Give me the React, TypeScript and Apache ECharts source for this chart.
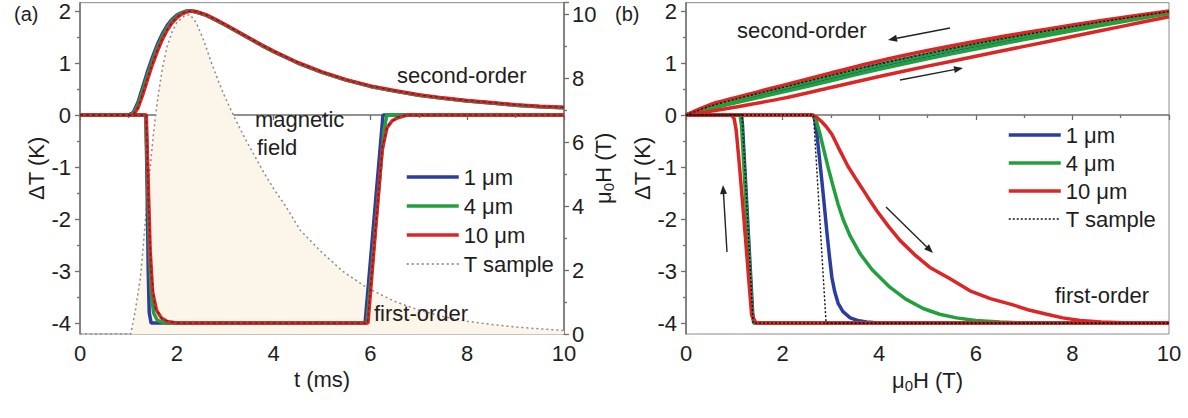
import React, { useEffect, useRef } from "react";
import * as echarts from "echarts";

const FONT = '"Liberation Sans", Arial, sans-serif';
const BLUE = "#2b3d9e";
const GREEN = "#22a03e";
const RED = "#dc2626";
const AXIS = "#6e6e6e";
const TXT = "#1e1e1e";

// ---------- panel (a): time traces ----------
const A_FIELD = [
  [0, 0], [1.05, 0], [1.15, 0.8], [1.25, 1.8], [1.32, 3.0], [1.38, 4.1], [1.45, 5.2], [1.52, 6.3],
  [1.6, 7.3], [1.7, 8.3], [1.8, 9.0], [1.9, 9.45], [2.0, 9.75], [2.15, 9.95], [2.27, 10], [2.4, 9.75],
  [2.5, 9.4], [2.6, 9.0], [2.7, 8.55], [2.85, 7.95], [3.0, 7.4], [3.2, 6.75], [3.4, 6.15], [3.6, 5.6],
  [3.8, 5.05], [4.0, 4.55], [4.25, 4.0], [4.55, 3.25], [5.0, 2.55], [5.43, 1.96], [5.93, 1.45],
  [6.5, 1.02], [7, 0.75], [7.5, 0.55], [8, 0.4], [8.5, 0.3], [9, 0.22], [9.5, 0.16], [10, 0.11],
];

const A_T2 = [0, 1.0, 1.1, 1.2, 1.3, 1.4, 1.5, 1.6, 1.7, 1.8, 1.9, 2.0, 2.1, 2.2, 2.3, 2.4, 2.6, 2.8, 3.0,
  3.25, 3.5, 3.75, 4.0, 4.5, 5, 5.5, 6, 6.5, 7, 7.5, 8, 8.5, 9, 9.5, 10];
const A_BLUE2 = [0, 0, 0.05, 0.25, 0.55, 0.85, 1.12, 1.36, 1.56, 1.72, 1.84, 1.92, 1.97, 2.0, 2.0, 1.98,
  1.92, 1.83, 1.73, 1.6, 1.47, 1.34, 1.22, 1.0, 0.82, 0.67, 0.55, 0.46, 0.38, 0.32, 0.27, 0.23, 0.19, 0.16, 0.14];
const A_GREEN2 = [0, 0, 0.03, 0.2, 0.48, 0.78, 1.05, 1.3, 1.51, 1.68, 1.81, 1.9, 1.96, 1.99, 2.0, 1.98,
  1.92, 1.83, 1.73, 1.6, 1.47, 1.34, 1.22, 1.0, 0.82, 0.67, 0.55, 0.46, 0.38, 0.32, 0.27, 0.23, 0.19, 0.16, 0.14];
const A_RED2 = [0, 0, 0, 0.14, 0.4, 0.7, 0.98, 1.23, 1.45, 1.63, 1.77, 1.87, 1.94, 1.98, 2.0, 1.99,
  1.93, 1.84, 1.74, 1.61, 1.48, 1.35, 1.23, 1.01, 0.83, 0.68, 0.56, 0.47, 0.39, 0.33, 0.28, 0.24, 0.2, 0.17, 0.15];
const A_SAMPLE2 = [0, 0, 0, 0.15, 0.42, 0.72, 1.0, 1.25, 1.46, 1.64, 1.78, 1.88, 1.95, 1.99, 2.0, 1.99,
  1.93, 1.84, 1.74, 1.61, 1.48, 1.35, 1.23, 1.01, 0.83, 0.68, 0.56, 0.47, 0.39, 0.33, 0.28, 0.24, 0.2, 0.17, 0.15];

const A_BLUE1 = [[0, 0], [1.36, 0], [1.38, -1], [1.41, -3], [1.43, -3.8], [1.47, -4], [5.89, -4], [6.26, 0], [10, 0]];
const A_GREEN1 = [[0, 0], [1.36, 0], [1.39, -1], [1.43, -2.5], [1.47, -3.4], [1.52, -3.8], [1.6, -3.95], [1.75, -4],
  [5.93, -4], [6.28, -0.3], [6.34, 0], [10, 0]];
const A_RED1 = [[0, 0], [1.37, 0], [1.4, -1], [1.45, -2.6], [1.5, -3.4], [1.58, -3.75], [1.68, -3.9], [1.8, -3.97],
  [2.0, -4], [5.95, -4], [6.24, -0.69], [6.34, -0.25], [6.45, -0.11], [6.55, -0.06], [6.76, 0], [10, 0]];
const A_SAMPLE1 = [[0, 0], [1.37, 0], [1.41, -1.5], [1.47, -3.0], [1.55, -3.7], [1.7, -3.93], [2.0, -4], [5.94, -4],
  [6.25, -0.6], [6.36, -0.2], [6.55, -0.04], [6.76, 0], [10, 0]];

// ---------- panel (b): field sweeps ----------
const B_H = [0, 0.5, 1, 2, 3, 4, 5, 6, 7, 8, 9, 10];
const B_RED2_DOWN = [0, 0.2, 0.33, 0.57, 0.81, 1.04, 1.24, 1.42, 1.58, 1.73, 1.87, 2.0];
const B_RED2_UP = [0, 0.07, 0.15, 0.32, 0.53, 0.74, 0.94, 1.13, 1.32, 1.51, 1.7, 1.89];
const B_GREEN2_DOWN = [0, 0.17, 0.29, 0.52, 0.74, 0.96, 1.16, 1.35, 1.52, 1.68, 1.83, 1.98];
const B_GREEN2_UP = [0, 0.12, 0.23, 0.44, 0.66, 0.88, 1.08, 1.27, 1.45, 1.62, 1.79, 1.95];
const B_BLUE2_DOWN = [0, 0.17, 0.3, 0.53, 0.75, 0.97, 1.17, 1.36, 1.53, 1.69, 1.84, 1.99];
const B_BLUE2_UP = [0, 0.15, 0.27, 0.49, 0.72, 0.94, 1.14, 1.33, 1.5, 1.66, 1.82, 1.97];
const B_SAMPLE2 = [0, 0.17, 0.3, 0.53, 0.76, 0.98, 1.18, 1.37, 1.54, 1.7, 1.85, 1.99];

const B_BLUE1_UP = [[0, 0], [2.63, 0], [2.67, -0.1], [2.71, -0.37], [2.76, -0.8], [2.82, -1.33], [2.87, -1.8],
  [2.92, -2.28], [2.97, -2.72], [3.02, -3.12], [3.08, -3.4], [3.15, -3.62], [3.25, -3.78], [3.4, -3.9],
  [3.55, -3.95], [3.74, -3.98], [4.0, -4], [10, -4]];
const B_GREEN1_UP = [[0, 0], [2.64, 0], [2.7, -0.12], [2.77, -0.35], [2.84, -0.62], [2.94, -1.0], [3.04, -1.35],
  [3.15, -1.72], [3.25, -2.0], [3.4, -2.33], [3.6, -2.66], [3.85, -2.97], [4.22, -3.31], [4.55, -3.54],
  [4.91, -3.72], [5.25, -3.83], [5.6, -3.9], [6.0, -3.95], [6.5, -3.98], [7.0, -4], [10, -4]];
const B_RED1_UP = [[0, 0], [2.6, 0], [2.7, -0.04], [2.8, -0.12], [2.9, -0.22], [3.02, -0.37], [3.1, -0.52],
  [3.19, -0.69], [3.35, -0.98], [3.54, -1.26], [3.75, -1.56], [3.95, -1.84], [4.2, -2.15], [4.43, -2.41],
  [4.75, -2.7], [5.05, -2.93], [5.45, -3.14], [5.88, -3.38], [6.3, -3.53], [6.77, -3.65], [7.1, -3.75],
  [7.47, -3.83], [7.8, -3.9], [8.16, -3.95], [8.6, -3.98], [9.2, -4], [10, -4]];
const B_BLUE1_DOWN = [[10, -4], [1.41, -4], [1.38, -3.8], [1.17, -0.2], [1.15, 0], [0, 0]];
const B_GREEN1_DOWN = [[10, -4], [1.4, -4], [1.37, -3.8], [1.15, -0.2], [1.12, 0], [0, 0]];
const B_RED1_DOWN = [[10, -4], [1.45, -4], [1.36, -3.85], [1.32, -3.4], [1.2, -2.0], [1.1, -0.9], [1.04, -0.3],
  [1.0, -0.08], [0.95, 0], [0, 0]];
const B_SAMPLE1_UP = [[0, 0], [2.64, 0], [2.9, -4], [10, -4]];
const B_SAMPLE1_DOWN = [[10, -4], [1.39, -4], [1.16, 0], [0, 0]];

const DT_TICKS = [-4, -3, -2, -1, 0, 1, 2];
const DT_MINOR = [-3.5, -2.5, -1.5, -0.5, 0.5, 1.5];
const LEGEND_NAMES = ["1 μm", "4 μm", "10 μm", "T sample"];

const zip = (xs: number[], ys: number[]) => xs.map((x, i) => [x, ys[i]]);

function line(name: string, data: any[], color: string, width: number, xi: number, yi: number, type: any = "solid", smooth: any = false) {
  return {
    type: "line", name, data, xAxisIndex: xi, yAxisIndex: yi, symbol: "none", silent: true, smooth,
    lineStyle: { color, width, type }, itemStyle: { color },
  };
}

function arrow(x1: number, y1: number, x2: number, y2: number) {
  const dx = x2 - x1, dy = y2 - y1;
  const len = Math.sqrt(dx * dx + dy * dy);
  const ux = dx / len, uy = dy / len;
  const hl = 9, hw = 3.5;
  const bx = x2 - ux * hl, by = y2 - uy * hl;
  return [
    { type: "line", z: 100, shape: { x1, y1, x2: bx, y2: by }, style: { stroke: "#222", lineWidth: 1.4 } },
    {
      type: "polygon", z: 100,
      shape: { points: [[x2, y2], [bx - uy * hw, by + ux * hw], [bx + uy * hw, by - ux * hw]] },
      style: { fill: "#222" },
    },
  ];
}

function label(text: string, x: number, y: number, size = 22) {
  return {
    type: "text", z: 100, x, y,
    style: { text, font: `${size}px ${FONT}`, fill: TXT, verticalAlign: "middle", textVerticalAlign: "middle" },
  };
}

const muName = "{m|μ}{s|0}{m|H (T)}";
const muRich = {
  m: { fontSize: 22, fontFamily: FONT, color: TXT, lineHeight: 26 },
  s: { fontSize: 15, fontFamily: FONT, color: TXT, lineHeight: 15, verticalAlign: "bottom" },
};

function xAxis(gridIndex: number, name: string, rich?: any) {
  return {
    type: "value", gridIndex, min: 0, max: 10, interval: 2,
    name, nameLocation: "middle", nameGap: 33,
    nameTextStyle: { fontSize: 22, fontFamily: FONT, color: TXT, rich },
    axisLine: { show: true, lineStyle: { color: AXIS, width: 1.5 } },
    axisTick: { show: true, length: 5, lineStyle: { color: AXIS, width: 1.3 } },
    minorTick: { show: true, splitNumber: 2, length: 3, lineStyle: { color: AXIS, width: 1.3 } },
    axisLabel: { fontSize: 22, fontFamily: FONT, color: TXT, margin: 8 },
    splitLine: { show: false },
  };
}

function dtAxis(gridIndex: number) {
  return {
    type: "value", gridIndex, position: "left", min: -4.21, max: 2.16,
    name: "ΔT (K)", nameLocation: "middle", nameGap: 30, nameRotate: 90,
    nameTextStyle: { fontSize: 22, fontFamily: FONT, color: TXT },
    axisLine: { show: true, onZero: false, lineStyle: { color: AXIS, width: 1.5 } },
    axisTick: { show: true, length: 5, customValues: DT_TICKS, lineStyle: { color: AXIS, width: 1.3 } },
    axisLabel: { fontSize: 22, fontFamily: FONT, color: TXT, margin: 9, customValues: DT_TICKS },
    splitLine: { show: false },
  };
}

function dtMinorAxis(gridIndex: number) {
  return {
    type: "value", gridIndex, position: "left", min: -4.21, max: 2.16,
    axisLine: { show: false, onZero: false },
    axisTick: { show: true, length: 3, customValues: DT_MINOR, lineStyle: { color: AXIS, width: 1.3 } },
    axisLabel: { show: false, customValues: DT_MINOR },
    splitLine: { show: false },
  };
}

export default function App() {
  const ref = useRef<HTMLDivElement>(null);
  useEffect(() => {
    if (!ref.current) return;
    const chart = echarts.init(ref.current, null, { renderer: "svg" });

    const series: any[] = [
      {
        type: "line", name: "field", data: A_FIELD, xAxisIndex: 0, yAxisIndex: 1, symbol: "none", silent: true,
        lineStyle: { color: "#8a8a8a", width: 1.5, type: [2, 3] },
        areaStyle: { color: "#fcf5e9", origin: "start", opacity: 1 },
      },
      line("1 μm", zip(A_T2, A_BLUE2), BLUE, 3.5, 0, 0),
      line("4 μm", zip(A_T2, A_GREEN2), GREEN, 3.5, 0, 0),
      line("10 μm", zip(A_T2, A_RED2), RED, 3.5, 0, 0),
      line("1 μm", A_BLUE1, BLUE, 3.5, 0, 0),
      line("4 μm", A_GREEN1, GREEN, 3.5, 0, 0),
      line("10 μm", A_RED1, RED, 3.5, 0, 0),
      line("T sample", zip(A_T2, A_SAMPLE2), "#333", 1.2, 0, 0, [3, 3]),
      line("T sample", A_SAMPLE1, "#333", 1.2, 0, 0, [3, 3]),

      line("1 μm", zip(B_H, B_BLUE2_DOWN), BLUE, 3.5, 1, 3, "solid", 0.3),
      line("1 μm", zip(B_H, B_BLUE2_UP), BLUE, 3.5, 1, 3, "solid", 0.3),
      line("4 μm", zip(B_H, B_GREEN2_DOWN), GREEN, 3.5, 1, 3, "solid", 0.3),
      line("4 μm", zip(B_H, B_GREEN2_UP), GREEN, 3.5, 1, 3, "solid", 0.3),
      line("10 μm", zip(B_H, B_RED2_DOWN), RED, 3.5, 1, 3, "solid", 0.3),
      line("10 μm", zip(B_H, B_RED2_UP), RED, 3.5, 1, 3, "solid", 0.3),
      line("1 μm", B_BLUE1_UP, BLUE, 3.5, 1, 3),
      line("1 μm", B_BLUE1_DOWN, BLUE, 3.5, 1, 3),
      line("4 μm", B_GREEN1_UP, GREEN, 3.5, 1, 3),
      line("4 μm", B_GREEN1_DOWN, GREEN, 3.5, 1, 3),
      line("10 μm", B_RED1_UP, RED, 3.5, 1, 3),
      line("10 μm", B_RED1_DOWN, RED, 3.5, 1, 3),
      line("T sample", zip(B_H, B_SAMPLE2), "#111", 1.4, 1, 3, [2, 2], 0.3),
      line("T sample", B_SAMPLE1_UP, "#111", 1.4, 1, 3, [2, 2]),
      line("T sample", B_SAMPLE1_DOWN, "#111", 1.4, 1, 3, [2, 2]),
    ];

    const legendBase = {
      orient: "vertical", padding: 0, itemWidth: 52, itemHeight: 14, itemGap: 7,
      selectedMode: false,
      itemStyle: { opacity: 0, color: "transparent", borderWidth: 0 },
      lineStyle: { width: 3.5 },
      textStyle: { fontSize: 22, fontFamily: FONT, color: TXT, lineHeight: 22 },
    };

    const option: any = {
      animation: false,
      textStyle: { fontFamily: FONT },
      grid: [
        { left: 80, top: 1, width: 484, height: 333, show: true, borderColor: "#8c8c8c", borderWidth: 1, backgroundColor: "transparent" },
        { left: 686, top: 1, width: 483, height: 333, show: true, borderColor: "#8c8c8c", borderWidth: 1, backgroundColor: "transparent" },
      ],
      xAxis: [xAxis(0, "t (ms)"), xAxis(1, muName, muRich)],
      yAxis: [
        dtAxis(0),
        {
          type: "value", gridIndex: 0, position: "right", min: 0, max: 10.37, interval: 2,
          name: muName, nameLocation: "middle", nameGap: 26, nameRotate: 90, nameMoveOverlap: false,
          nameTextStyle: { fontSize: 22, fontFamily: FONT, color: TXT, rich: muRich },
          axisLine: { show: true, onZero: false, lineStyle: { color: AXIS, width: 1.5 } },
          axisTick: { show: true, length: 5, lineStyle: { color: AXIS, width: 1.3 } },
          minorTick: { show: true, splitNumber: 2, length: 3, lineStyle: { color: AXIS, width: 1.3 } },
          axisLabel: { fontSize: 22, fontFamily: FONT, color: TXT, margin: 8, showMaxLabel: false },
          splitLine: { show: false },
        },
        dtMinorAxis(0),
        dtAxis(1),
        dtMinorAxis(1),
      ],
      legend: [
        {
          ...legendBase, left: 405, top: 166,
          data: [
            LEGEND_NAMES[0], LEGEND_NAMES[1], LEGEND_NAMES[2],
            { name: LEGEND_NAMES[3], lineStyle: { color: "#7a7a7a", width: 1.6, type: [2, 3] } },
          ],
        },
        {
          ...legendBase, left: 1007, top: 124,
          itemGap: 6,
          data: [
            LEGEND_NAMES[0], LEGEND_NAMES[1], LEGEND_NAMES[2],
            { name: LEGEND_NAMES[3], lineStyle: { color: "#111", width: 1.6, type: [2, 2] } },
          ],
        },
      ],
      graphic: [
        label("(a)", 14, 14, 20),
        label("(b)", 615, 14, 20),
        label("magnetic", 255, 119),
        label("field", 257, 147),
        label("second-order", 397, 75),
        label("first-order", 374, 313),
        label("second-order", 737, 30),
        label("first-order", 1055, 295),
        ...arrow(950, 28, 888, 40),
        ...arrow(900, 80, 963, 68),
        ...arrow(727, 252, 723, 185),
        ...arrow(886, 207, 933, 253),
      ],
      series,
    };
    chart.setOption(option);
    return () => chart.dispose();
  }, []);
  return <div ref={ref} style={{ position: "fixed", left: 0, top: 0, width: 1188, height: 418, background: "#fff" }} />;
}
